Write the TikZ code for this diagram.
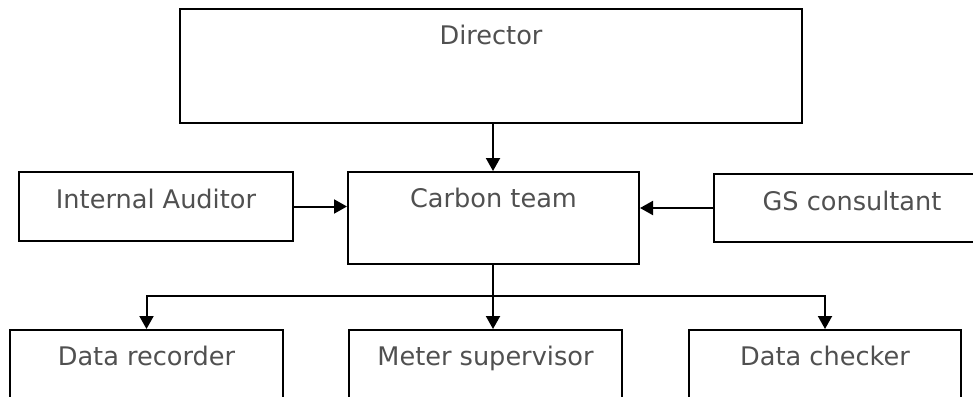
\documentclass[tikz,border=0pt]{standalone}
\usepackage{fontspec}
\setmainfont{DejaVu Sans}
\usetikzlibrary{arrows.meta}
\definecolor{txt}{HTML}{505050}
\begin{document}
\begin{tikzpicture}[x=0.5pt,y=-0.5pt,
  box/.style={draw=black,line width=1pt,rectangle,inner sep=0pt,anchor=north west,
    text=txt,font=\fontsize{12.8}{15}\selectfont},
  arr/.style={line width=1pt,-{Triangle[width=7pt,length=6.5pt]}}]
\clip (0,0) rectangle (973,396);
\fill[white] (0,0) rectangle (973,396);
\node[box,minimum width=311pt,text height=17.5pt,text depth=39.5pt] (director) at (179,8) {Director};
\node[box,minimum width=137pt,text height=18pt,text depth=16.5pt] (ia) at (18,171) {Internal Auditor};
\node[box,minimum width=145.5pt,text height=17.5pt,text depth=28.5pt] (carbon) at (347,171) {Carbon team};
\node[box,minimum width=138pt,text height=18pt,text depth=16pt] (gs) at (713,173) {GS consultant};
\node[box,minimum width=136.5pt,text height=17.5pt,text depth=27.5pt] (recorder) at (9,329) {Data recorder};
\node[box,minimum width=136.5pt,text height=17.5pt,text depth=27.5pt] (meter) at (348,329) {Meter supervisor};
\node[box,minimum width=136pt,text height=17.5pt,text depth=27.5pt] (checker) at (688,329) {Data checker};
\coordinate (split) at (493,296);
\draw[arr] (director.south -| split) -- (carbon.north -| split);
\draw[arr] (ia.east) -- (ia.east -| carbon.west);
\draw[arr] (gs.west) -- (gs.west -| carbon.east);
\draw[arr] (carbon.south -| split) -- (meter.north -| split);
\draw[arr] (split) -| (recorder.north);
\draw[arr] (split) -| (checker.north);
\end{tikzpicture}
\end{document}
